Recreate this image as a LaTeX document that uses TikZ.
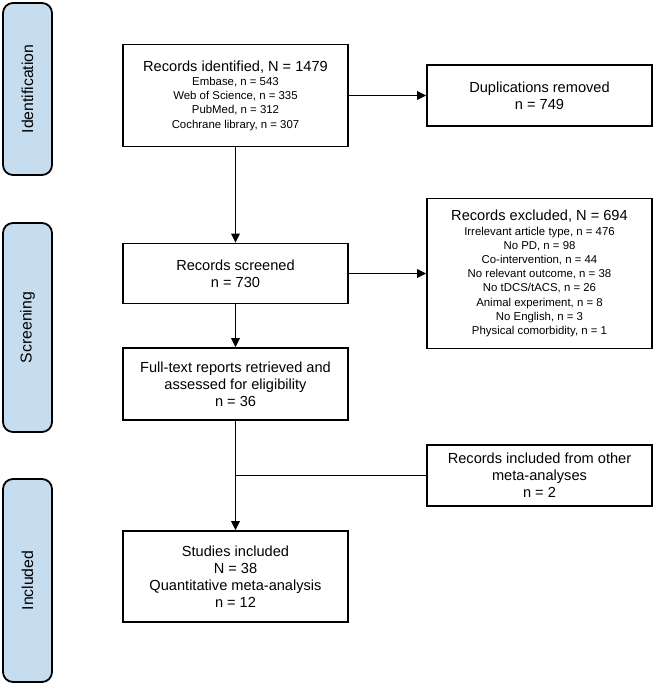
\documentclass[tikz,border=0pt]{standalone}
\usepackage{fontspec}
\setmainfont{Liberation Sans}
\usetikzlibrary{arrows.meta}
\definecolor{stagefill}{HTML}{C6DDF0}
\begin{document}
\begin{tikzpicture}[x=1pt,y=-1pt,
  stage/.style={draw=black,line width=1.8pt,fill=stagefill,rounded corners=10pt,minimum height=49pt,inner sep=0pt,font=\fontsize{15.8}{18}\selectfont},
  box/.style={draw=black,line width=1.6pt,fill=white,minimum width=225pt,inner sep=0pt,align=center,font=\fontsize{14.6}{17}\selectfont},
  smallbox/.style={box,font=\fontsize{11.4}{14.2}\selectfont},
  conn/.style={line width=1.6pt},
  arr/.style={conn,-{Triangle[length=9pt,width=8.5pt]}}
]
\useasboundingbox (0,0) rectangle (654,685);

\node[stage,rotate=90,minimum width=172pt] (stident) at (27.5,89) {Identification};
\node[stage,rotate=90,minimum width=209pt] (stscreen) at (27.5,327.5) {Screening};
\node[stage,rotate=90,minimum width=203pt] (stincl) at (27.5,580.5) {Included};

\node[smallbox,minimum height=102pt] (ident) at (235.5,95.5) {{\fontsize{14.6}{14.2}\selectfont Records identified, N = 1479}\\Embase, n = 543\\Web of Science, n = 335\\PubMed, n = 312\\Cochrane library, n = 307};
\node[box,minimum height=61pt] (dup) at (539.5,95.5) {Duplications removed\\n = 749};
\node[box,minimum height=60pt] (scr) at (235.5,273.5) {Records screened\\n = 730};
\node[smallbox,minimum height=150pt] (excl) at (539.5,273.5) {{\fontsize{14.6}{14.2}\selectfont Records excluded, N = 694}\\Irrelevant article type, n = 476\\No PD, n = 98\\Co-intervention, n = 44\\No relevant outcome, n = 38\\No tDCS/tACS, n = 26\\Animal experiment, n = 8\\No English, n = 3\\Physical comorbidity, n = 1};
\node[box,minimum height=72pt] (full) at (235.5,384) {Full-text reports retrieved and\\assessed for eligibility\\n = 36};
\node[box,minimum height=61pt] (other) at (539.5,475.5) {Records included from other\\meta-analyses\\n = 2};
\node[box,minimum height=91pt] (stud) at (235.5,576.5) {Studies included\\N = 38\\Quantitative meta-analysis\\n = 12};

\draw[arr] (ident) -- (dup);
\draw[arr] (ident) -- (scr);
\draw[arr] (scr) -- (excl);
\draw[arr] (scr) -- (full);
\draw[arr] (full) -- (stud);
\draw[conn] (other.west) -- (other.west -| full.south);
\end{tikzpicture}
\end{document}
